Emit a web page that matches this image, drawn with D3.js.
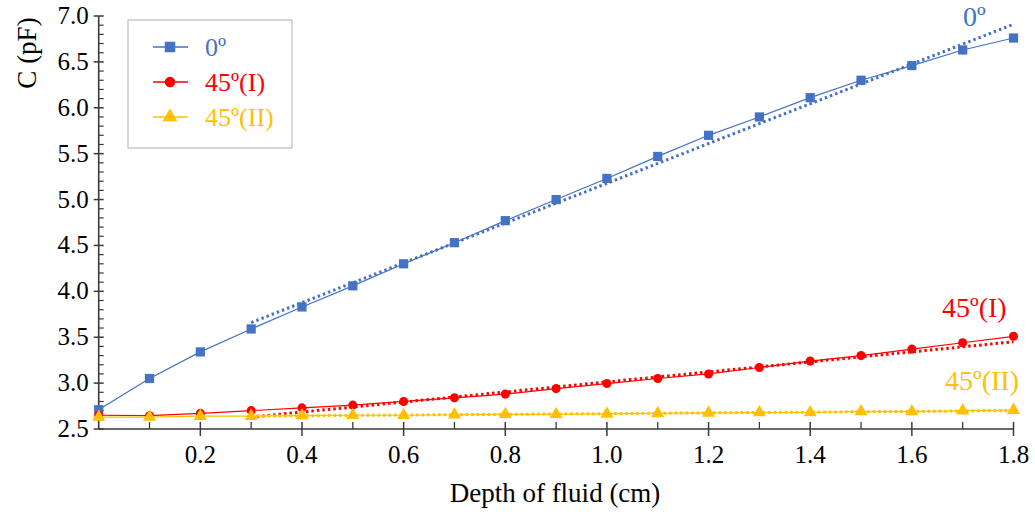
<!DOCTYPE html>
<html>
<head>
<meta charset="utf-8">
<script src="https://cdn.jsdelivr.net/npm/d3@7"></script>
<style>
  body { margin: 0; background: #fff; }
  svg text { font-family: "Liberation Serif", "Times New Roman", Times, "DejaVu Serif", serif; }
</style>
</head>
<body>
<div id="chart"></div>
<script>
// depth of fluid (cm)
const depth = [0, 0.1, 0.2, 0.3, 0.4, 0.5, 0.6, 0.7, 0.8, 0.9, 1.0, 1.1, 1.2, 1.3, 1.4, 1.5, 1.6, 1.7, 1.8]
// capacitance (pF)
const c0 = [2.71, 3.05, 3.34, 3.59, 3.83, 4.06, 4.30, 4.53, 4.77, 5.00, 5.23, 5.47, 5.70, 5.90, 6.11, 6.30, 6.46, 6.63, 6.76]
const c45a = [2.65, 2.645, 2.67, 2.70, 2.73, 2.76, 2.80, 2.84, 2.88, 2.94, 2.995, 3.05, 3.10, 3.17, 3.24, 3.30, 3.37, 3.44, 3.51]
const c45b = [2.63, 2.63, 2.64, 2.64, 2.645, 2.65, 2.65, 2.655, 2.66, 2.66, 2.665, 2.67, 2.675, 2.68, 2.68, 2.69, 2.69, 2.70, 2.705]
// linear fits, [x, y] at ends
const fit0 = [[0.3, 3.66], [1.8, 6.91]]
const fit45a = [[0.3, 2.63], [1.8, 3.45]]
const fit45b = [[0.3, 2.64], [1.8, 2.70]]

const seriesNames = ['0º', '45º(I)', '45º(II)']
const colors = ['#4472C4', '#FF0000', '#FFC000']
const xTicks = [0.2, 0.4, 0.6, 0.8, 1.0, 1.2, 1.4, 1.6, 1.8]
const yTicks = [2.5, 3.0, 3.5, 4.0, 4.5, 5.0, 5.5, 6.0, 6.5, 7.0]

const width = 1035
const height = 515
const margin = { left: 98.7, right: 21.5, top: 16, bottom: 86 }
const serif = '"Liberation Serif", "Times New Roman", Times, "DejaVu Serif", serif'

const svg = d3.select('#chart').append('svg')
  .attr('width', width)
  .attr('height', height)

const x = d3.scaleLinear().domain([0, 1.8]).range([margin.left, width - margin.right])
const y = d3.scaleLinear().domain([2.5, 7.0]).range([height - margin.bottom, margin.top])

const axisColor = '#3a3a3a'

// 坐标轴 - minor ticks
const gx = svg.append('g')
gx.selectAll('line.minor').data(d3.range(1, 19, 2).map(d => d / 10)).enter()
  .append('line')
  .attr('x1', d => x(d)).attr('x2', d => x(d))
  .attr('y1', y(2.5) - 7).attr('y2', y(2.5))
  .attr('stroke', axisColor).attr('stroke-width', 1.3)
gx.selectAll('line.major').data(xTicks).enter()
  .append('line')
  .attr('x1', d => x(d)).attr('x2', d => x(d))
  .attr('y1', y(2.5) - 7).attr('y2', y(2.5) + 7)
  .attr('stroke', axisColor).attr('stroke-width', 1.5)
gx.append('line')
  .attr('x1', x(0)).attr('x2', x(1.8))
  .attr('y1', y(2.5)).attr('y2', y(2.5))
  .attr('stroke', axisColor).attr('stroke-width', 1.6)
gx.selectAll('text').data(xTicks).enter()
  .append('text')
  .attr('x', d => x(d))
  .attr('y', y(2.5) + 34)
  .attr('text-anchor', 'middle')
  .attr('font-family', serif)
  .style('font-size', '25px')
  .text(d => d.toFixed(1))

const gy = svg.append('g')
const yMinor = d3.range(25, 71).map(d => d / 10).filter(d => Math.round(d * 10) % 5 !== 0)
gy.selectAll('line.minor').data(yMinor).enter()
  .append('line')
  .attr('x1', x(0)).attr('x2', x(0) + 5)
  .attr('y1', d => y(d)).attr('y2', d => y(d))
  .attr('stroke', axisColor).attr('stroke-width', 1.2)
gy.selectAll('line.major').data(yTicks).enter()
  .append('line')
  .attr('x1', x(0) - 5).attr('x2', x(0) + 5)
  .attr('y1', d => y(d)).attr('y2', d => y(d))
  .attr('stroke', axisColor).attr('stroke-width', 1.5)
gy.append('line')
  .attr('x1', x(0)).attr('x2', x(0))
  .attr('y1', y(2.5)).attr('y2', y(7.0))
  .attr('stroke', axisColor).attr('stroke-width', 1.6)
gy.selectAll('text').data(yTicks).enter()
  .append('text')
  .attr('x', x(0) - 10)
  .attr('y', d => y(d) + 8)
  .attr('text-anchor', 'end')
  .attr('font-family', serif)
  .style('font-size', '25px')
  .text(d => d.toFixed(1))

// axis titles
svg.append('text')
  .attr('x', 555)
  .attr('y', 502)
  .attr('text-anchor', 'middle')
  .attr('font-family', serif)
  .style('font-size', '27px')
  .text('Depth of fluid (cm)')
svg.append('text')
  .attr('transform', 'translate(36,53) rotate(-90)')
  .attr('text-anchor', 'middle')
  .attr('font-family', serif)
  .style('font-size', '27px')
  .text('C (pF)')

// fit lines
const fits = [fit0, fit45a, fit45b]
const line = d3.line().x(d => x(d[0])).y(d => y(d[1]))
fits.forEach((f, i) => {
  svg.append('path')
    .attr('d', line(f))
    .attr('fill', 'none')
    .attr('stroke', colors[i])
    .attr('stroke-width', 3)
    .attr('stroke-dasharray', '2.5,3')
})

// data lines + markers
const allSeries = [c0, c45a, c45b]
const symbols = [d3.symbolSquare, d3.symbolCircle, d3.symbolTriangle]
const symSizes = [85, 65, 75]
allSeries.forEach((s, i) => {
  const pts = depth.map((d, j) => [d, s[j]])
  svg.append('path')
    .attr('d', line(pts))
    .attr('fill', 'none')
    .attr('stroke', colors[i])
    .attr('stroke-width', 1.2)
  svg.append('g').selectAll('path').data(pts).enter()
    .append('path')
    .attr('d', d3.symbol().type(symbols[i]).size(symSizes[i]))
    .attr('transform', d => `translate(${x(d[0])},${y(d[1])})`)
    .attr('fill', colors[i])
})

// series labels near ends
const labelPos = [[963, 26], [942, 317], [945, 390]]
seriesNames.forEach((n, i) => {
  svg.append('text')
    .attr('x', labelPos[i][0])
    .attr('y', labelPos[i][1])
    .attr('fill', colors[i])
    .attr('font-family', serif)
    .style('font-size', '28px')
    .text(n)
})

// 图例
const legend = svg.append('g').attr('transform', 'translate(128,20)')
legend.append('rect')
  .attr('width', 164).attr('height', 128)
  .attr('fill', '#fff')
  .attr('stroke', '#bfbfbf').attr('stroke-width', 1.2)
seriesNames.forEach((n, i) => {
  const gy0 = 27 + i * 35
  const item = legend.append('g').attr('transform', `translate(0,${gy0})`)
  item.append('line')
    .attr('x1', 25).attr('x2', 60)
    .attr('stroke', colors[i]).attr('stroke-width', 1.5)
  item.append('path')
    .attr('d', d3.symbol().type(symbols[i]).size(symSizes[i] * 1.3))
    .attr('transform', 'translate(42,0)')
    .attr('fill', colors[i])
  item.append('text')
    .attr('x', 77)
    .attr('y', 9)
    .attr('fill', colors[i])
    .attr('font-family', serif)
    .style('font-size', '26px')
    .text(n)
})
</script>
</body>
</html>
